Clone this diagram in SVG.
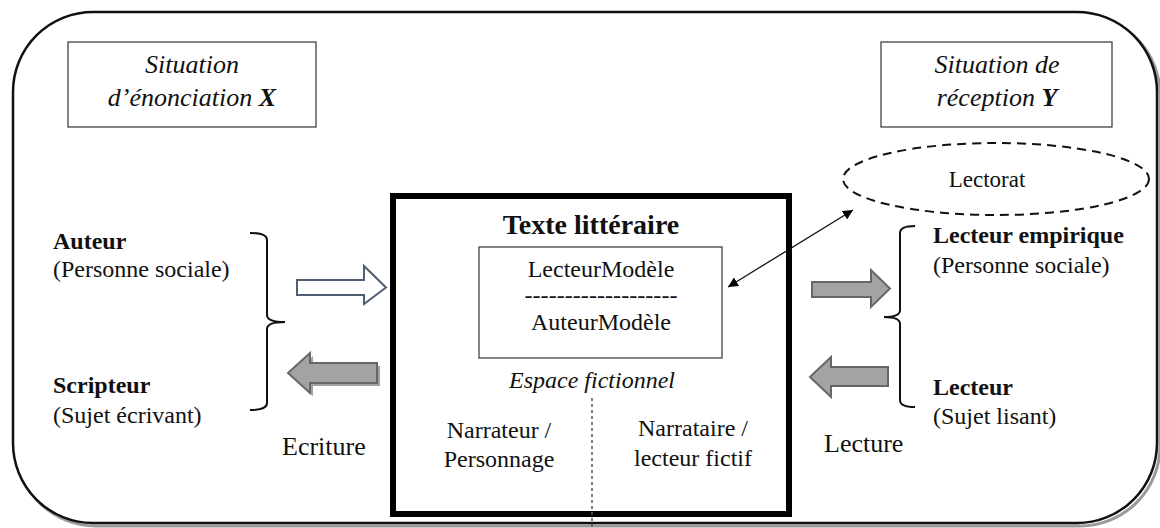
<svg xmlns="http://www.w3.org/2000/svg" width="1160" height="528" viewBox="0 0 1160 528" font-family="'Liberation Serif', 'Times New Roman', Tinos, 'DejaVu Serif', serif">
<style>
text{font-family:'Liberation Serif','Times New Roman',Tinos,'DejaVu Serif',serif;fill:#111;}
.f23{font-size:23px;}
.f24{font-size:24px;}
.f26{font-size:26px;}
.f28{font-size:28px;}
.b{font-weight:bold;}
.i{font-style:italic;}
.m{text-anchor:middle;}
.box{fill:#fff;stroke:#333;stroke-width:1.2;}
.brace{fill:none;stroke:#111;stroke-width:2;}
.garrow{fill:#a3a3a3;stroke:#666;stroke-width:2;}
</style>
<defs>
<marker id="ah" viewBox="0 0 10 10" refX="10" refY="5" markerWidth="10" markerHeight="10" markerUnits="userSpaceOnUse" orient="auto-start-reverse">
<path d="M0,0 L10,5 L0,10 z" fill="#000"/>
</marker>
</defs>
<g id="frame">
<rect x="16" y="15" width="1144" height="511" rx="80" ry="80" fill="none" stroke="#9a9a9a" stroke-width="3"/>
<rect x="13" y="12" width="1144" height="511" rx="80" ry="80" fill="#fff" stroke="#111" stroke-width="2.5"/>
</g>
<g id="situationX">
<rect class="box" x="68" y="42" width="248" height="85"/>
<text class="f26 i m" x="192" y="73">Situation</text>
<text class="f26 i m" x="192" y="106">d’énonciation <tspan class="b">X</tspan></text>
</g>
<g id="situationY">
<rect class="box" x="881" y="42" width="231" height="85"/>
<text class="f26 i m" x="997" y="73">Situation de</text>
<text class="f26 i m" x="997" y="106">réception <tspan class="b">Y</tspan></text>
</g>
<g id="lectorat">
<ellipse cx="996" cy="179" rx="153" ry="36" fill="none" stroke="#111" stroke-width="2" stroke-dasharray="9,6"/>
<text class="f23 m" x="987" y="187">Lectorat</text>
</g>
<g id="auteur">
<text class="f24 b" x="53" y="249">Auteur</text>
<text class="f24" x="53" y="277">(Personne sociale)</text>
<text class="f24 b" x="53" y="393">Scripteur</text>
<text class="f24" x="53" y="423">(Sujet écrivant)</text>
<path class="brace" d="M250,233 Q267,233 267,240 V315 Q267,322 285,322 Q267,322 267,329 V403 Q267,410 250,410"/>
</g>
<g id="ecriture">
<text class="f26" x="282" y="455">Ecriture</text>
</g>
<g id="lecteur">
<text class="f24 b" x="933" y="243">Lecteur empirique</text>
<text class="f24" x="933" y="273">(Personne sociale)</text>
<text class="f24 b" x="933" y="395">Lecteur</text>
<text class="f24" x="933" y="424">(Sujet lisant)</text>
<path class="brace" d="M915,226 Q900,226 900,233 V310 Q900,317 884,317 Q900,317 900,324 V400 Q900,407 915,407"/>
</g>
<g id="lecture">
<text class="f26" x="824" y="452">Lecture</text>
</g>
<g id="texte">
<rect x="393" y="196" width="396" height="318" fill="#fff" stroke="#000" stroke-width="6"/>
<text class="f28 b m" x="591" y="234">Texte littéraire</text>
<rect class="box" x="479" y="247" width="243" height="111"/>
<text class="f24 m" x="601" y="277">LecteurModèle</text>
<text class="f24 m" x="601" y="303" textLength="153" lengthAdjust="spacingAndGlyphs">-------------------</text>
<text class="f24 m" x="601" y="330">AuteurModèle</text>
<text class="f24 i m" x="592" y="388">Espace fictionnel</text>
<text class="f24 m" x="499" y="438">Narrateur /</text>
<text class="f24 m" x="499" y="467">Personnage</text>
<text class="f24 m" x="693" y="436">Narrataire /</text>
<text class="f24 m" x="693" y="466">lecteur fictif</text>
</g>
<g id="connectors">
<line x1="592" y1="398" x2="592" y2="528" stroke="#555" stroke-width="1.5" stroke-dasharray="3,3"/>
<line x1="728" y1="287" x2="853" y2="210" stroke="#111" stroke-width="1.3" marker-start="url(#ah)" marker-end="url(#ah)"/>
<polygon points="297,280 364,280 364,266 386,287.5 364,304 364,295 297,295" fill="#fff" stroke="#4f5e73" stroke-width="2"/>
<polygon points="291,376 313,356 313,366 380,366 380,386 313,386 313,396" fill="#7a7a7a" stroke="none" opacity="0.7"/>
<polygon class="garrow" points="288,373 310,353 310,363 377,363 377,383 310,383 310,393"/>
<polygon class="garrow" points="812,282 871,282 871,270 890,288.5 871,307 871,297 812,297"/>
<polygon class="garrow" points="810,377 831,357 831,367 888,367 888,386 831,386 831,397"/>
</g>
</svg>
